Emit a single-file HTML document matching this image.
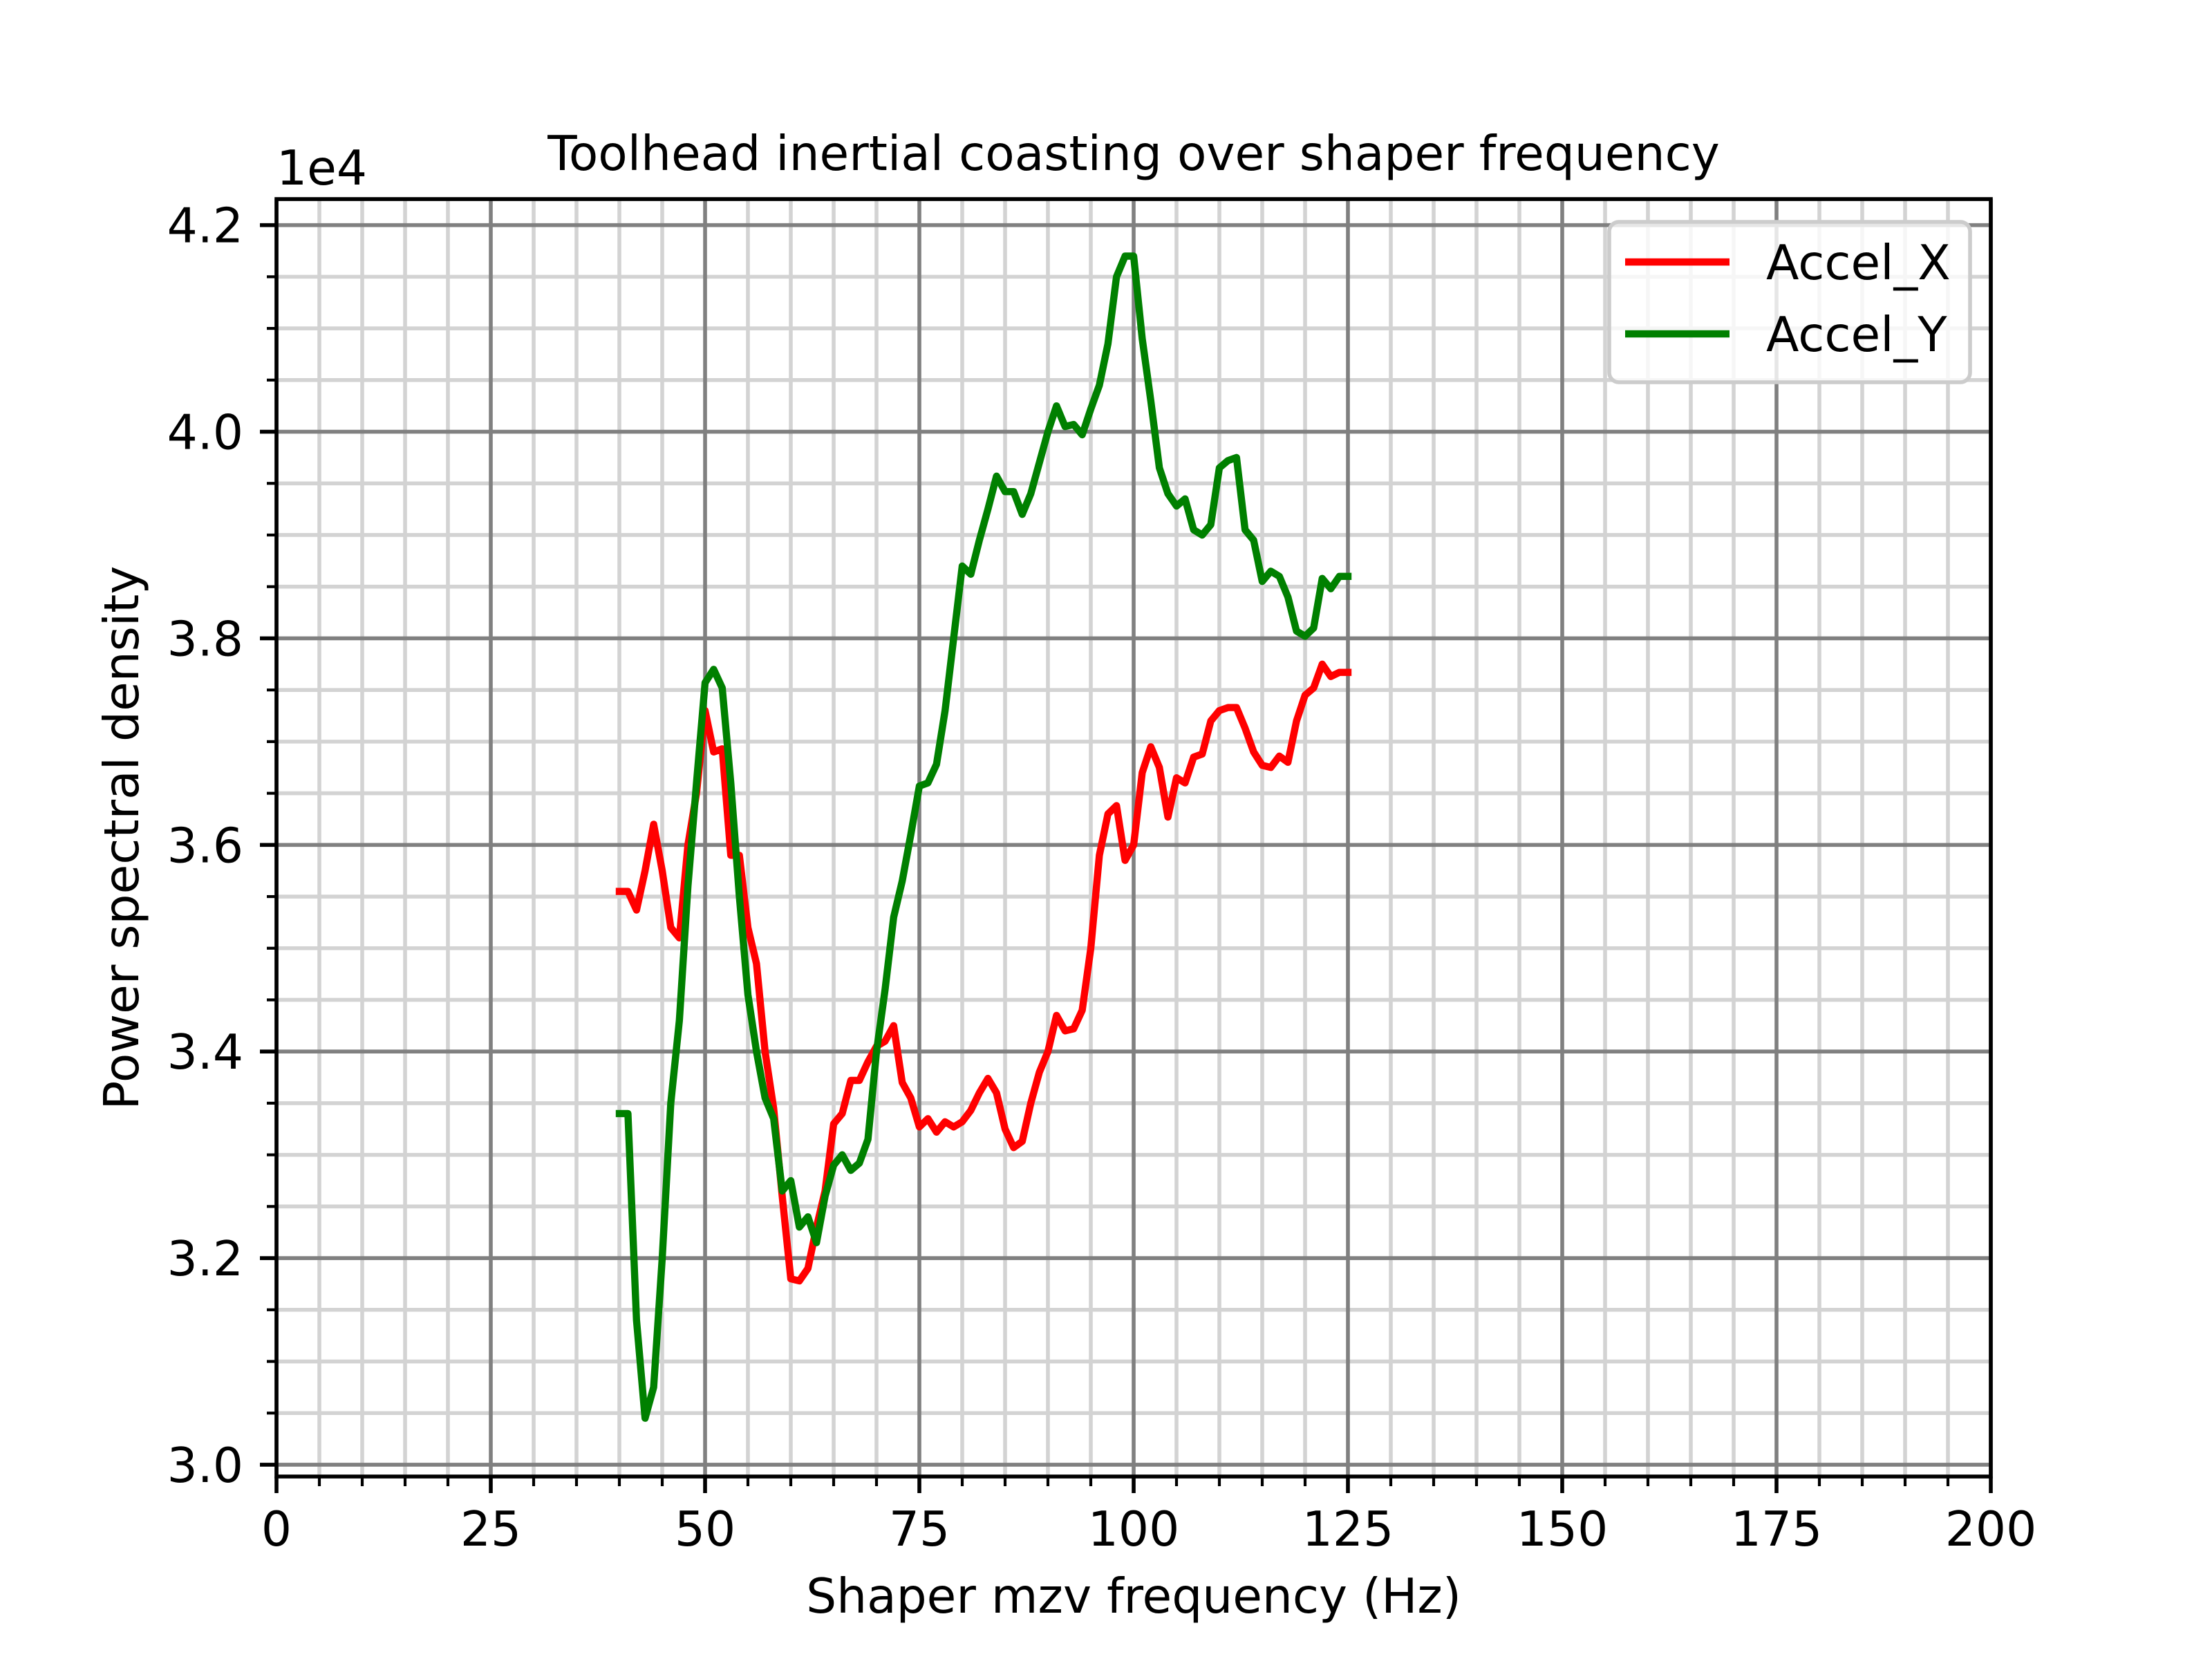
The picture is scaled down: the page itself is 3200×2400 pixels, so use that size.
<!DOCTYPE html>
<html><head><meta charset="utf-8"><style>
html,body{margin:0;padding:0;background:#fff;}
svg{display:block;font-family:"DejaVu Sans","Liberation Sans",sans-serif;}
</style></head><body>
<svg id="chart" width="3200" height="2400" viewBox="0 0 3200 2400" xmlns="http://www.w3.org/2000/svg">
<rect width="3200" height="2400" fill="#fff"/>
<g id="grid"></g>
<g id="series"></g>
<g id="axes"></g>
<text x="1640" y="246" font-size="69.4" text-anchor="middle">Toolhead inertial coasting over shaper frequency</text>
<text x="400" y="267" font-size="69.4">1e4</text>
<text x="1640" y="2333" font-size="69.4" text-anchor="middle">Shaper mzv frequency (Hz)</text>
<text transform="translate(200,1212) rotate(-90)" font-size="69.4" text-anchor="middle">Power spectral density</text>
<g>
<rect x="2328" y="321" width="522" height="232" rx="14" fill="#fff" fill-opacity="0.8" stroke="#cccccc" stroke-width="5.6"/>
<g>
<line x1="2351" y1="379" x2="2502" y2="379" stroke="#ff0000" stroke-width="10.4"/>
<text x="2555" y="404" font-size="69.4">Accel_X</text>
</g>
<g>
<line x1="2351" y1="483" x2="2502" y2="483" stroke="#008000" stroke-width="10.4"/>
<text x="2555" y="508" font-size="69.4">Accel_Y</text>
</g>
</g>
</svg>
<script>
const freqs = [];
for (let f = 40; f <= 125; f++) freqs.push(f);
const accelX = [3.555,3.555,3.537,3.575,3.62,3.575,3.52,3.51,3.60,3.65,3.73,3.69,3.693,3.59,3.59,3.52,3.485,3.40,3.345,3.26,3.18,3.178,3.19,3.23,3.265,3.33,3.34,3.372,3.372,3.39,3.405,3.41,3.425,3.37,3.355,3.327,3.335,3.322,3.332,3.327,3.332,3.343,3.36,3.374,3.36,3.325,3.307,3.313,3.35,3.38,3.40,3.435,3.42,3.422,3.44,3.50,3.59,3.63,3.638,3.585,3.60,3.67,3.695,3.675,3.627,3.665,3.66,3.685,3.688,3.72,3.73,3.733,3.733,3.713,3.69,3.677,3.675,3.686,3.68,3.72,3.745,3.752,3.775,3.763,3.767,3.767];
const accelY = [3.34,3.34,3.14,3.045,3.075,3.20,3.35,3.43,3.56,3.66,3.757,3.77,3.752,3.66,3.55,3.455,3.40,3.355,3.335,3.265,3.275,3.23,3.24,3.215,3.26,3.29,3.30,3.285,3.292,3.315,3.40,3.46,3.53,3.565,3.61,3.657,3.66,3.678,3.73,3.80,3.87,3.862,3.895,3.925,3.957,3.942,3.942,3.92,3.94,3.97,4.0,4.025,4.005,4.007,3.997,4.022,4.045,4.085,4.15,4.17,4.17,4.09,4.03,3.965,3.94,3.928,3.935,3.905,3.90,3.91,3.965,3.972,3.975,3.905,3.895,3.855,3.865,3.86,3.84,3.807,3.802,3.81,3.858,3.848,3.86,3.86];
const xTicks = [0,25,50,75,100,125,150,175,200];
const xTickLabels = ["0","25","50","75","100","125","150","175","200"];
const yTicks = [3.0,3.2,3.4,3.6,3.8,4.0,4.2];
const yTickLabels = ["3.0","3.2","3.4","3.6","3.8","4.0","4.2"];

const NS = "http://www.w3.org/2000/svg";
const L = 400, R = 2880, T = 288, B = 2136;
const XMIN = 0, XMAX = 200, YMIN = 2.9886, YMAX = 4.2252;
const sx = v => L + (v - XMIN) / (XMAX - XMIN) * (R - L);
const sy = v => B - (v - YMIN) / (YMAX - YMIN) * (B - T);

function mk(tag, attrs, parent) {
  const e = document.createElementNS(NS, tag);
  for (const k in attrs) e.setAttribute(k, attrs[k]);
  parent.appendChild(e);
  return e;
}
const grid = document.getElementById('grid');
const axes = document.getElementById('axes');
const series = document.getElementById('series');

for (let v = 0; v <= 200; v += 5) {
  if (v % 25 === 0) continue;
  const ln = mk('line', {x1: sx(v), x2: sx(v), y1: T, y2: B, stroke: '#d3d3d3', 'stroke-width': 5.6}, grid);
  
  
  const tk = mk('line', {x1: sx(v), x2: sx(v), y1: B, y2: B + 14, stroke: '#000', 'stroke-width': 4.2}, axes);
  
  
}
for (let i = 0; ; i++) {
  const v = 3.0 + i * 0.05;
  if (v > YMAX) break;
  if (i % 4 === 0) continue;
  const ln = mk('line', {x1: L, x2: R, y1: sy(v), y2: sy(v), stroke: '#d3d3d3', 'stroke-width': 5.6}, grid);
  
  
  const tk = mk('line', {x1: L - 14, x2: L, y1: sy(v), y2: sy(v), stroke: '#000', 'stroke-width': 4.2}, axes);
  
  
}
xTicks.forEach((v, i) => {
  const ln = mk('line', {x1: sx(v), x2: sx(v), y1: T, y2: B, stroke: '#808080', 'stroke-width': 5.6}, grid);
  
  
  const tk = mk('line', {x1: sx(v), x2: sx(v), y1: B, y2: B + 24, stroke: '#000', 'stroke-width': 5.6}, axes);
  
  
  const t = mk('text', {x: sx(v), y: 2236, 'font-size': 69.4, 'text-anchor': 'middle'}, axes);
  t.textContent = xTickLabels[i];
  
  
});
yTicks.forEach((v, i) => {
  const ln = mk('line', {x1: L, x2: R, y1: sy(v), y2: sy(v), stroke: '#808080', 'stroke-width': 5.6}, grid);
  
  
  const tk = mk('line', {x1: L - 24, x2: L, y1: sy(v), y2: sy(v), stroke: '#000', 'stroke-width': 5.6}, axes);
  
  
  const t = mk('text', {x: 352, y: sy(v) + 25, 'font-size': 69.4, 'text-anchor': 'end'}, axes);
  t.textContent = yTickLabels[i];
  
  
});
const frame = mk('rect', {x: L, y: T, width: R - L, height: B - T, fill: 'none', stroke: '#000', 'stroke-width': 5.6}, axes);



function drawLine(vals, color, name) {
  const pts = vals.map((v, i) => sx(freqs[i]).toFixed(1) + ',' + sy(v).toFixed(1)).join(' ');
  const p = mk('polyline', {points: pts, fill: 'none', stroke: color, 'stroke-width': 10.4, 'stroke-linejoin': 'round', 'stroke-linecap': 'square'}, series);
  
  
}
drawLine(accelX, '#ff0000', 'accel-x-line');
drawLine(accelY, '#008000', 'accel-y-line');
</script>
</body></html>
